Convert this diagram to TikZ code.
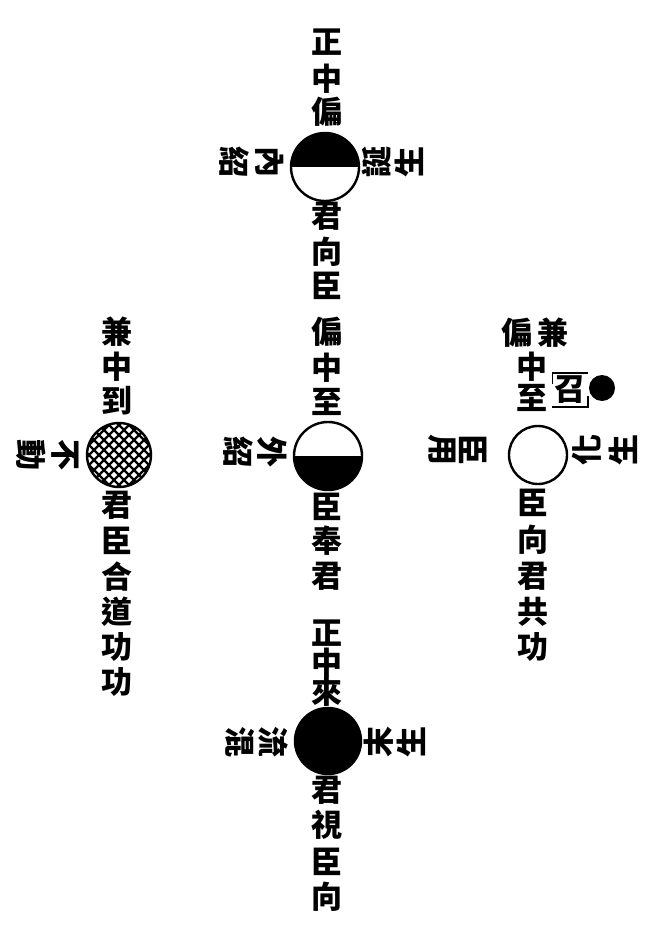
\documentclass[tikz,border=0pt]{standalone}
\usepackage{fontspec}
\newfontfamily\cjk{Noto Sans CJK TC}
\tikzset{
	zi/.style={inner sep=0pt, font=\cjk\bfseries\fontsize{31}{31}\selectfont},
	zil/.style={zi, rotate=-90},
	zir/.style={zi, rotate=90},
	wei/.style={circle, draw, line width=2.4pt, inner sep=0pt},
}
\begin{document}
\begin{tikzpicture}[x=1pt,y=1pt]
		\useasboundingbox (0,-936) rectangle (654,0);
		% 正中偏
		\node [wei, minimum size=68pt] (P1) at (325,-167) {};
		\fill (P1.center) ++(-34,0) arc[start angle=180,end angle=0,radius=34] -- cycle;
		\foreach \ch/\y [count=\i] in {正/42,中/79,偏/112,君/216,向/252,臣/286}
			\node [zi] (P1-v\i) at (327,-\y) {\ch};
		\node [zil] (P1-l1) at (270,-162) {內};
		\node [zil] (P1-l2) at (234,-162) {紹};
		\node [zir] (P1-r1) at (377,-162) {誕};
		\node [zir] (P1-r2) at (409,-162) {生};
		% 偏中至
		\node [wei, minimum size=68pt] (P2) at (328,-456) {};
		\fill (P2.center) ++(-34,0) arc[start angle=180,end angle=360,radius=34] -- cycle;
		\foreach \ch/\y [count=\i] in {偏/332,中/368,至/402,臣/507,奉/541,君/576}
			\node [zi] (P2-v\i) at (327,-\y) {\ch};
		\node [zil] (P2-l1) at (272,-452) {外};
		\node [zil] (P2-l2) at (238,-452) {紹};
		% 正中來
		\node [wei, minimum size=66pt, fill] (P3) at (328,-741) {};
		\foreach \ch/\y [count=\i] in {正/633,中/663,來/692,君/790,視/825,臣/862,向/897}
			\node [zi] (P3-v\i) at (327,-\y) {\ch};
		\node [zil] (P3-l1) at (273,-742) {流};
		\node [zil] (P3-l2) at (240,-742) {混};
		\node [zir] (P3-r1) at (379,-742) {末};
		\node [zir] (P3-r2) at (411,-742) {生};
		% 兼中到
		\node [wei, minimum size=64pt] (P4) at (119,-455) {};
		\begin{scope}
			\clip (P4.center) circle (32);
			\foreach \d in {-80,-70,...,80} {
				\draw [line width=2.2pt] ({119+\d-40},-495) -- ++(80,80);
				\draw [line width=2.2pt] ({119+\d+40},-495) -- ++(-80,80);
			}
		\end{scope}
		\foreach \ch/\y [count=\i] in {兼/332,中/367,到/401,君/505,臣/541,合/577,道/612,功/647,功/682}
			\node [zi] (P4-v\i) at (117,-\y) {\ch};
		\node [zil] (P4-l1) at (65,-455) {不};
		\node [zil] (P4-l2) at (31,-455) {動};
		% 兼中至
		\node [wei, minimum size=58pt] (P5) at (538,-455) {};
		\node [zi] (P5-t1) at (517,-333) {偏};
		\node [zi] (P5-t2) at (553,-333) {兼};
		\node [zi] (P5-t3) at (532,-367) {中};
		\node [zi] (P5-t4) at (532,-398) {至};
		\node [zi] (P5-zh) at (570,-390) {召};
		\draw [line width=1.6pt] ([shift={(-2,-8)}]P5-zh.north west) -- ([shift={(-2,3)}]P5-zh.north west) -- ([shift={(2,3)}]P5-zh.north east);
		\draw [line width=1.6pt] ([shift={(-2,-3)}]P5-zh.south west) -- ([shift={(2,-3)}]P5-zh.south east) -- ([shift={(2,8)}]P5-zh.south east);
		\fill (602,-388) circle (13);
		\foreach \ch/\y [count=\i] in {臣/503,向/540,君/576,共/612,功/647}
			\node [zi] (P5-v\i) at (533,-\y) {\ch};
		\node [zil] (P5-l1) at (473,-450) {臣};
		\node [zil] (P5-l2) at (442,-450) {用};
		\node [zir] (P5-r1) at (587,-450) {化};
		\node [zir] (P5-r2) at (623,-450) {生};
	\end{tikzpicture}
\end{document}
